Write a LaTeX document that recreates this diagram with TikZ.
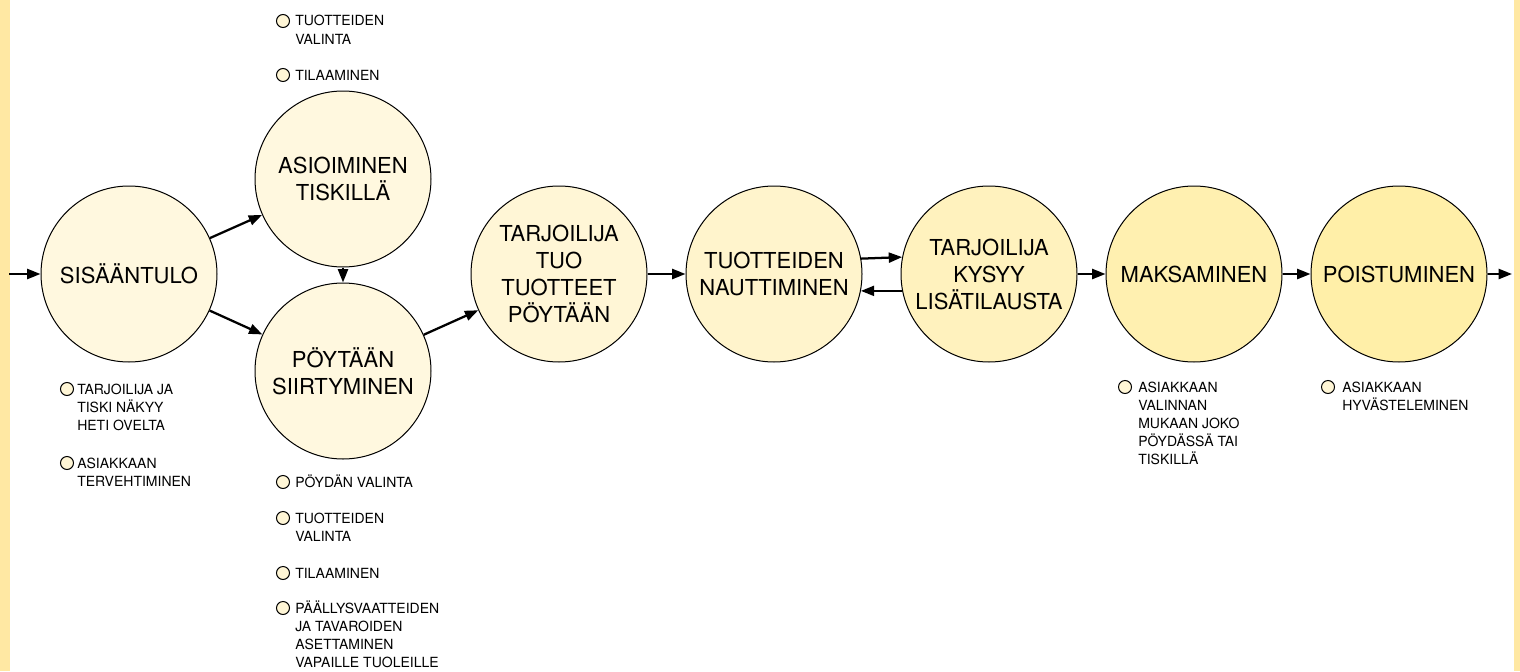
\documentclass[tikz,border=0pt]{standalone}
\usepackage{fontspec}
\setmainfont{TeX Gyre Heros}
\usetikzlibrary{arrows.meta}

\definecolor{stripyellow}{HTML}{FFE8A3}
\definecolor{stepa}{HTML}{FFF8DF}
\definecolor{stepb}{HTML}{FFF6D6}
\definecolor{stepc}{HTML}{FFF4CC}
\definecolor{stepd}{HTML}{FFF2BE}
\definecolor{stepe}{HTML}{FFF0B0}
\definecolor{stepf}{HTML}{FFEFA8}

% luettelon teksti, ensimmäisen rivin peruslinja
\newcommand{\notelines}[1]{\begin{tabular}[t]{@{}l@{}}#1\end{tabular}}

\begin{document}
\begin{tikzpicture}[x=0.75pt, y=-0.75pt]
  \tikzset{
    phase/.style={circle, draw, line width=0.75pt, inner sep=0pt, minimum size=132pt,
      align=center, font=\fontsize{16.5}{20.25}\selectfont},
    dot/.style={circle, draw, line width=0.75pt, fill=stepb, inner sep=0pt, minimum size=9.75pt},
    note/.style={anchor=base west, inner sep=0pt, font=\fontsize{10.5}{13.5}\selectfont},
    arr/.style={line width=1.7pt, -{Triangle[length=10pt, width=7.5pt]}}
  }

  % Kehys ja reunat
  \useasboundingbox (0,0) rectangle (1520,671);
  \fill[stripyellow] (0,0) rectangle (10,671);
  \fill[stripyellow] (1514,0) rectangle (1520,671);

  % Vaiheet
  \node[phase, fill=stepa] (sis) at (129,274) {SISÄÄNTULO};
  \node[phase, fill=stepa] (asi) at (343,179) {ASIOIMINEN\\TISKILLÄ};
  \node[phase, fill=stepa] (poy) at (343,371) {PÖYTÄÄN\\SIIRTYMINEN};
  \node[phase, fill=stepb] (tuo) at (559,274) {TARJOILIJA\\TUO\\TUOTTEET\\PÖYTÄÄN};
  \node[phase, fill=stepc] (nau) at (774,274) {TUOTTEIDEN\\NAUTTIMINEN};
  \node[phase, fill=stepd] (kys) at (989,274) {TARJOILIJA\\KYSYY\\LISÄTILAUSTA};
  \node[phase, fill=stepe] (mak) at (1194,274) {MAKSAMINEN};
  \node[phase, fill=stepf] (poi) at (1399,274) {POISTUMINEN};

  \coordinate (entry) at (9,274);
  \coordinate (exit) at (1512,274);

  % Nuolet
  \draw[arr] (entry) -- (sis);
  \draw[arr] (sis) -- (asi);
  \draw[arr] (sis) -- (poy);
  \draw[arr] (asi) -- (poy);
  \draw[arr] (poy) -- (tuo);
  \draw[arr] (tuo) -- (nau);
  \draw[arr] (nau.10.5) -- (kys.169.5);
  \draw[arr] (kys.191) -- (nau.-11);
  \draw[arr] (kys) -- (mak);
  \draw[arr] (mak) -- (poi);
  \draw[arr] (poi) -- (exit);

  % Tiskin luettelo
  \node[dot] (d1) at (283,21) {};
  \node[note] (n1) at (295,26) {\notelines{TUOTTEIDEN\\VALINTA}};
  \node[dot] (d2) at (283,75) {};
  \node[note] (n2) at (295,80) {\notelines{TILAAMINEN}};

  % Sisääntulon luettelo
  \node[dot] (d3) at (67,389) {};
  \node[note] (n3) at (77,394) {\notelines{TARJOILIJA JA\\TISKI NÄKYY\\HETI OVELTA}};
  \node[dot] (d4) at (67,463) {};
  \node[note] (n4) at (77,468) {\notelines{ASIAKKAAN\\TERVEHTIMINEN}};

  % Pöytään siirtymisen luettelo
  \node[dot] (d5) at (283,482) {};
  \node[note] (n5) at (295,487) {\notelines{PÖYDÄN VALINTA}};
  \node[dot] (d6) at (283,518) {};
  \node[note] (n6) at (295,523) {\notelines{TUOTTEIDEN\\VALINTA}};
  \node[dot] (d7) at (283,573) {};
  \node[note] (n7) at (295,578) {\notelines{TILAAMINEN}};
  \node[dot] (d8) at (283,608) {};
  \node[note] (n8) at (295,613) {\notelines{PÄÄLLYSVAATTEIDEN\\JA TAVAROIDEN\\ASETTAMINEN\\VAPAILLE TUOLEILLE}};

  % Maksamisen ja poistumisen luettelot
  \node[dot] (d9) at (1125,387) {};
  \node[note] (n9) at (1138,392) {\notelines{ASIAKKAAN\\VALINNAN\\MUKAAN JOKO\\PÖYDÄSSÄ TAI\\TISKILLÄ}};
  \node[dot] (d10) at (1328,387) {};
  \node[note] (n10) at (1342,392) {\notelines{ASIAKKAAN\\HYVÄSTELEMINEN}};
\end{tikzpicture}
\end{document}
